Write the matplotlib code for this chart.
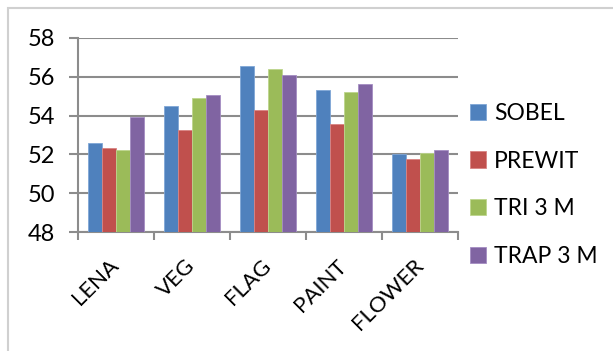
import matplotlib.pyplot as plt
import numpy as np
from matplotlib.patches import Rectangle

plt.rcParams['font.family'] = ['Lato', 'DejaVu Sans']

# data
images = ['LENA', 'VEG', 'FLAG', 'PAINT', 'FLOWER']
sobel = [52.57, 54.49, 56.54, 55.32, 52.02]
prewit = [52.35, 53.27, 54.29, 53.58, 51.76]
tri_3m = [52.21, 54.89, 56.39, 55.22, 52.07]
trap_3m = [53.91, 55.05, 56.09, 55.61, 52.21]
series_names = ['SOBEL', 'PREWIT', 'TRI 3 M', 'TRAP 3 M']
colors = ['#4F81BD', '#C0504D', '#9BBB59', '#8064A2']
edges = ['#7FA6D6', '#D98483', '#BDD68D', '#A48DC2']

fig = plt.figure(figsize=(6.13, 3.51), dpi=100)
ax = fig.add_axes([0.127, 0.339, 0.62, 0.553])

# light grey outer frame
fig.patches.append(Rectangle((8 / 613, -0.05), 1.1, 1 - 8 / 351 + 0.05,
                             transform=fig.transFigure, fill=False,
                             edgecolor='#D0D0D0', linewidth=1.5))

x = np.arange(len(images))
w = 0.184
handles = []
for i, vals in enumerate([sobel, prewit, tri_3m, trap_3m]):
    b = ax.bar(x + (i - 1.5) * w, np.array(vals) - 48, bottom=48, width=w,
               color=colors[i], edgecolor=edges[i], linewidth=0.6,
               label=series_names[i], zorder=3)
    handles.append(b)

ax.set_ylim(48, 58)
ax.set_yticks(np.arange(48, 59, 2))
ax.set_xlim(-0.5, 4.5)
ax.set_xticks(x)
ax.set_xticklabels(images, rotation=45, ha='right', va='center',
                   rotation_mode='anchor', fontsize=16)
ax.set_xticks(np.arange(-0.5, 5, 1), minor=True)
ax.tick_params(axis='x', which='major', length=0, pad=22)
ax.tick_params(axis='x', which='minor', length=6, width=1.5, color='#8C8C8C')
ax.tick_params(axis='y', length=6.5, width=1.5, color='#8C8C8C',
               labelsize=17, pad=10)

ax.grid(axis='y', color='#8C8C8C', linewidth=1.5, zorder=0)
ax.set_axisbelow(True)
for side in ['top', 'right']:
    ax.spines[side].set_visible(False)
for side in ['left', 'bottom']:
    ax.spines[side].set_color('#8C8C8C')
    ax.spines[side].set_linewidth(1.5)

leg = fig.legend(handles=handles, loc='upper left',
                 bbox_to_anchor=(0.748, 0.74), frameon=False, fontsize=16.5,
                 handlelength=0.7, handleheight=0.7, handletextpad=0.35,
                 labelspacing=1.17, borderpad=0)

fig.savefig('out.png', dpi=100)
